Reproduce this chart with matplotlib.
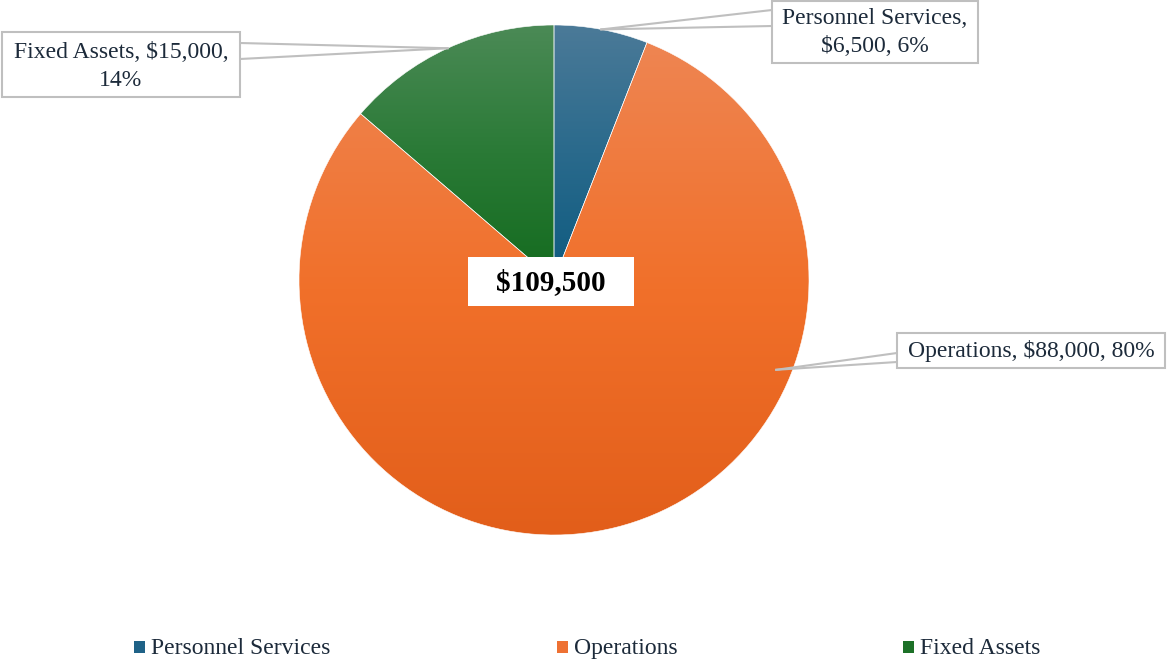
import numpy as np
import matplotlib
matplotlib.use("Agg")
import matplotlib.pyplot as plt
from matplotlib.patches import Rectangle
from matplotlib.colors import LinearSegmentedColormap

# ---- data ----
categories = ["Personnel Services", "Operations", "Fixed Assets"]
values = [6500, 88000, 15000]
total_label = "$109,500"
top_colors = ["#4b7a98", "#ee8552", "#4b8a56"]
mid_colors = ["#2a6a8c", "#f1702a", "#2a7a36"]
bottom_colors = ["#0e5b80", "#e25e1a", "#146b1f"]
legend_colors = ["#1f6287", "#ee7133", "#1d7128"]

plt.rcParams["font.family"] = ["Liberation Serif", "DejaVu Serif"]
W, H = 1167, 663
fig = plt.figure(figsize=(W / 100, H / 100), dpi=100)
fig.patch.set_facecolor("white")

# pie axes: bounding box of the pie in pixels
cx, cy, R = 554, 280, 255
ax = fig.add_axes([(cx - R) / W, (H - cy - R) / H, 2 * R / W, 2 * R / H])
wedges, _ = ax.pie(values, startangle=90, counterclock=False, radius=1,
                   wedgeprops=dict(edgecolor="white", linewidth=0.4))
ax.set_xlim(-1, 1)
ax.set_ylim(-1, 1)
ax.set_aspect("equal")
ax.axis("off")

grad = np.linspace(0, 1, 256).reshape(-1, 1)
for w, ct, cm, cb in zip(wedges, top_colors, mid_colors, bottom_colors):
    w.set_facecolor("none")
    verts = w.get_path().vertices
    ymin, ymax = verts[:, 1].min(), verts[:, 1].max()
    xmin, xmax = verts[:, 0].min(), verts[:, 0].max()
    cmap = LinearSegmentedColormap.from_list("g", [cb, cm, ct])
    im = ax.imshow(grad, cmap=cmap, origin="lower", aspect="auto",
                   extent=[xmin, xmax, ymin, ymax], zorder=0.5)
    im.set_clip_path(w)
ax.set_xlim(-1, 1)
ax.set_ylim(-1, 1)

# overlay in pixel coordinates
ov = fig.add_axes([0, 0, 1, 1], zorder=5)
ov.set_xlim(0, W)
ov.set_ylim(H, 0)
ov.axis("off")

def rim_point(angle_cw_from_top, r=1.0):
    a = np.deg2rad(90 - angle_cw_from_top)
    return cx + R * r * np.cos(a), cy - R * r * np.sin(a)

fracs = np.array(values) / sum(values)
starts = np.concatenate([[0], np.cumsum(fracs)[:-1]]) * 360
mids = starts + fracs * 180

text_color = "#1c2a3a"
line_color = "#bfbfbf"
fs = 17

def callout(anchor, box, attach, lines_text, text_y):
    x0, y0, x1, y1 = box
    ov.add_patch(Rectangle((x0, y0), x1 - x0, y1 - y0, facecolor="white",
                           edgecolor=line_color, linewidth=1.5, zorder=3))
    ax_, ay_ = anchor
    bx, by1, by2 = attach
    ov.plot([ax_, bx], [ay_, by1], color=line_color, lw=1.5, zorder=2)
    ov.plot([ax_, bx], [ay_, by2], color=line_color, lw=1.5, zorder=2)
    for t, ty in zip(lines_text, text_y):
        ov.text((x0 + x1) / 2, ty, t, ha="center", va="center", fontsize=fs,
                color=text_color, zorder=4)

pcts = [f"{round(f * 100):.0f}%" for f in fracs]
lbl = [f"${v:,.0f}" for v in values]

# Personnel Services
callout(rim_point(mids[0]), (772, 1, 978, 63), (772, 10, 26),
        [f"{categories[0]},", f"{lbl[0]}, {pcts[0]}"], [18, 46])
# Operations
callout(rim_point(112, 0.94), (897, 333, 1165, 368), (897, 353, 362),
        [f"{categories[1]}, {lbl[1]}, {pcts[1]}"], [351])
# Fixed Assets
callout(rim_point(mids[2]), (2, 32, 240, 97), (240, 43, 59),
        [f"{categories[2]}, {lbl[2]},", pcts[2]], [52, 80])

# center total
ov.add_patch(Rectangle((468, 257), 166, 49, facecolor="white", edgecolor="none", zorder=3))
ov.text(551, 283, total_label, ha="center", va="center", fontsize=21,
        fontweight="bold", color="black", zorder=4)

# legend (manual, common baseline)
legend_x = [134, 557, 903]
for x, c, name in zip(legend_x, legend_colors, categories):
    ov.add_patch(Rectangle((x, 641), 11, 12, facecolor=c, edgecolor="none", zorder=3))
    ov.text(x + 17, 654, name, ha="left", va="baseline", fontsize=17,
            color=text_color, zorder=4)

fig.savefig("out.png", dpi=100, facecolor="white")
